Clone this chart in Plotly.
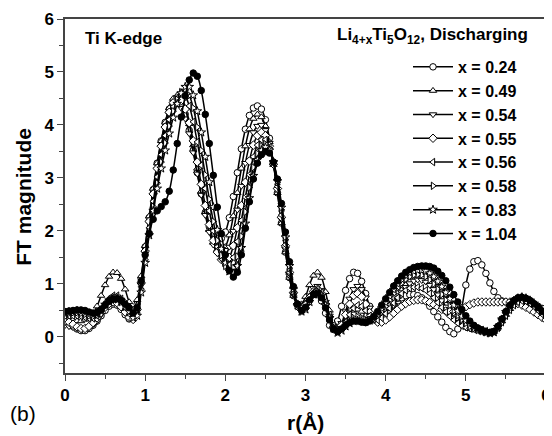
import plotly.graph_objects as go

r = [round(i * 0.05, 2) for i in range(121)]

labels = ["x = 0.24", "x = 0.49", "x = 0.54", "x = 0.55", "x = 0.56", "x = 0.58", "x = 0.83", "x = 1.04"]

ft_024 = [0.28,0.25,0.20,0.15,0.12,0.12,0.16,0.22,0.30,0.40,0.50,0.58,0.62,0.60,0.52,0.42,0.34,0.36,0.62,1.10,
          1.70,2.25,2.78,3.28,3.70,4.05,4.30,4.45,4.48,4.40,4.20,3.90,3.52,3.10,2.70,2.35,2.08,1.92,1.85,1.86,
          1.98,2.25,2.65,3.10,3.55,3.92,4.18,4.32,4.36,4.30,4.10,3.75,3.28,2.72,2.15,1.60,1.12,0.78,0.60,0.56,
          0.62,0.72,0.80,0.80,0.68,0.45,0.22,0.14,0.30,0.58,0.88,1.10,1.22,1.20,1.05,0.82,0.58,0.40,0.32,0.33,
          0.40,0.50,0.60,0.68,0.74,0.78,0.80,0.80,0.78,0.74,0.68,0.58,0.48,0.38,0.28,0.18,0.10,0.06,0.15,0.55,
          0.98,1.28,1.42,1.44,1.36,1.20,1.02,0.86,0.74,0.68,0.66,0.64,0.63,0.63,0.64,0.64,0.63,0.61,0.58,0.54,
          0.50]
ft_049 = [0.35,0.34,0.32,0.30,0.30,0.33,0.38,0.45,0.58,0.78,0.98,1.14,1.22,1.21,1.10,0.90,0.66,0.52,0.70,1.15,
          1.72,2.28,2.80,3.28,3.70,4.05,4.32,4.50,4.56,4.50,4.32,4.02,3.62,3.18,2.75,2.35,2.02,1.78,1.65,1.62,
          1.70,1.92,2.28,2.72,3.18,3.60,3.92,4.12,4.20,4.15,3.98,3.68,3.25,2.72,2.15,1.60,1.12,0.78,0.62,0.62,
          0.76,0.98,1.16,1.22,1.12,0.85,0.50,0.22,0.12,0.18,0.30,0.42,0.50,0.52,0.48,0.40,0.34,0.30,0.30,0.34,
          0.42,0.52,0.64,0.76,0.88,0.98,1.06,1.12,1.16,1.18,1.18,1.15,1.10,1.02,0.92,0.80,0.68,0.56,0.45,0.36,
          0.28,0.22,0.17,0.13,0.10,0.08,0.07,0.10,0.18,0.30,0.42,0.53,0.62,0.67,0.69,0.67,0.63,0.57,0.50,0.43,
          0.37]
ft_054 = [0.22,0.20,0.18,0.16,0.15,0.16,0.18,0.22,0.30,0.42,0.56,0.68,0.75,0.76,0.70,0.58,0.44,0.34,0.48,0.98,
          1.58,2.15,2.68,3.16,3.58,3.94,4.20,4.36,4.40,4.32,4.12,3.84,3.48,3.08,2.68,2.30,1.98,1.74,1.58,1.52,
          1.54,1.70,2.00,2.40,2.85,3.28,3.62,3.86,3.98,4.00,3.90,3.66,3.28,2.78,2.22,1.66,1.16,0.80,0.60,0.54,
          0.62,0.78,0.92,0.96,0.88,0.66,0.40,0.20,0.14,0.26,0.48,0.72,0.90,0.96,0.90,0.74,0.55,0.40,0.32,0.32,
          0.38,0.48,0.60,0.72,0.84,0.94,1.01,1.06,1.08,1.07,1.04,0.98,0.90,0.80,0.69,0.57,0.46,0.36,0.28,0.22,
          0.18,0.16,0.15,0.14,0.12,0.10,0.08,0.10,0.18,0.30,0.43,0.55,0.64,0.70,0.72,0.71,0.67,0.61,0.54,0.46,
          0.39]
ft_055 = [0.30,0.28,0.24,0.19,0.16,0.16,0.20,0.27,0.36,0.46,0.56,0.63,0.66,0.64,0.57,0.47,0.37,0.33,0.52,1.02,
          1.62,2.18,2.70,3.18,3.60,3.96,4.24,4.42,4.50,4.46,4.30,4.04,3.70,3.30,2.88,2.48,2.12,1.82,1.60,1.46,
          1.42,1.50,1.72,2.06,2.48,2.92,3.32,3.62,3.80,3.86,3.80,3.60,3.26,2.80,2.26,1.72,1.22,0.84,0.62,0.54,
          0.60,0.74,0.86,0.90,0.82,0.62,0.38,0.18,0.12,0.22,0.42,0.62,0.78,0.82,0.76,0.62,0.46,0.34,0.28,0.28,
          0.32,0.38,0.45,0.52,0.58,0.63,0.67,0.69,0.70,0.70,0.68,0.65,0.61,0.56,0.52,0.49,0.48,0.48,0.50,0.53,
          0.57,0.61,0.64,0.66,0.66,0.66,0.66,0.66,0.66,0.66,0.66,0.66,0.65,0.63,0.60,0.56,0.52,0.47,0.42,0.37,
          0.32]
ft_056 = [0.40,0.40,0.40,0.40,0.39,0.37,0.35,0.35,0.40,0.50,0.62,0.72,0.78,0.78,0.72,0.62,0.50,0.40,0.50,0.95,
          1.52,2.06,2.56,3.02,3.44,3.80,4.10,4.34,4.50,4.58,4.54,4.36,4.06,3.68,3.24,2.80,2.38,2.00,1.70,1.48,
          1.36,1.36,1.50,1.80,2.20,2.64,3.06,3.40,3.62,3.72,3.72,3.58,3.28,2.84,2.30,1.74,1.22,0.82,0.58,0.50,
          0.56,0.70,0.84,0.90,0.84,0.66,0.42,0.22,0.12,0.16,0.28,0.42,0.54,0.60,0.58,0.50,0.40,0.33,0.32,0.36,
          0.44,0.54,0.64,0.74,0.82,0.88,0.92,0.94,0.94,0.92,0.88,0.82,0.74,0.65,0.56,0.47,0.39,0.32,0.26,0.21,
          0.18,0.16,0.15,0.14,0.13,0.11,0.09,0.10,0.17,0.28,0.40,0.51,0.60,0.66,0.68,0.67,0.63,0.57,0.50,0.43,
          0.36]
ft_058 = [0.44,0.45,0.46,0.46,0.45,0.43,0.40,0.39,0.42,0.50,0.60,0.68,0.72,0.71,0.66,0.57,0.47,0.38,0.45,0.90,
          1.46,1.98,2.46,2.90,3.30,3.66,3.98,4.26,4.48,4.62,4.66,4.56,4.32,3.96,3.52,3.06,2.60,2.18,1.82,1.54,
          1.34,1.25,1.30,1.52,1.90,2.36,2.82,3.20,3.46,3.60,3.64,3.56,3.32,2.92,2.40,1.84,1.30,0.86,0.58,0.48,
          0.52,0.66,0.80,0.86,0.80,0.62,0.38,0.18,0.10,0.14,0.22,0.30,0.36,0.38,0.36,0.33,0.32,0.34,0.40,0.48,
          0.58,0.70,0.82,0.93,1.02,1.09,1.14,1.17,1.18,1.17,1.14,1.08,1.00,0.90,0.80,0.70,0.60,0.50,0.41,0.33,
          0.26,0.20,0.16,0.13,0.11,0.09,0.07,0.09,0.18,0.31,0.45,0.57,0.66,0.72,0.74,0.72,0.68,0.62,0.55,0.48,
          0.41]
ft_083 = [0.46,0.47,0.48,0.49,0.48,0.46,0.43,0.42,0.44,0.51,0.61,0.69,0.73,0.73,0.68,0.59,0.48,0.36,0.40,0.84,
          1.40,1.92,2.38,2.80,3.18,3.52,3.84,4.14,4.40,4.60,4.72,4.72,4.56,4.26,3.86,3.40,2.92,2.45,2.02,1.66,
          1.40,1.24,1.20,1.34,1.68,2.14,2.62,3.04,3.34,3.52,3.58,3.52,3.30,2.94,2.44,1.88,1.34,0.90,0.60,0.48,
          0.52,0.66,0.80,0.84,0.78,0.60,0.36,0.16,0.08,0.12,0.20,0.26,0.30,0.31,0.30,0.29,0.31,0.36,0.44,0.54,
          0.65,0.77,0.89,1.00,1.09,1.16,1.21,1.24,1.26,1.26,1.24,1.20,1.14,1.05,0.95,0.84,0.72,0.60,0.49,0.39,
          0.31,0.24,0.19,0.15,0.12,0.09,0.07,0.09,0.19,0.33,0.47,0.59,0.68,0.73,0.75,0.73,0.69,0.63,0.56,0.49,
          0.42]
ft_104 = [0.48,0.49,0.50,0.51,0.51,0.50,0.47,0.45,0.46,0.52,0.60,0.67,0.71,0.72,0.69,0.62,0.55,0.45,0.55,1.05,
          1.55,1.95,2.22,2.38,2.46,2.55,2.75,3.15,3.65,4.15,4.55,4.85,4.98,4.92,4.65,4.20,3.65,3.05,2.45,1.95,
          1.55,1.25,1.13,1.22,1.55,2.05,2.55,2.98,3.28,3.44,3.50,3.47,3.30,2.98,2.52,1.98,1.42,0.95,0.62,0.50,
          0.56,0.70,0.80,0.82,0.74,0.55,0.32,0.15,0.10,0.15,0.22,0.27,0.30,0.30,0.28,0.27,0.30,0.38,0.48,0.60,
          0.72,0.84,0.96,1.06,1.15,1.22,1.27,1.31,1.33,1.34,1.34,1.33,1.30,1.24,1.16,1.06,0.94,0.80,0.66,0.52,
          0.40,0.30,0.22,0.17,0.13,0.10,0.08,0.10,0.20,0.34,0.48,0.60,0.69,0.74,0.75,0.73,0.69,0.63,0.56,0.49,
          0.43]

series = [ft_024, ft_049, ft_054, ft_055, ft_056, ft_058, ft_083, ft_104]
symbols = ["circle", "triangle-up", "triangle-down", "diamond", "triangle-left", "triangle-right", "star", "circle"]
fills = ["white", "white", "white", "white", "white", "white", "white", "black"]

# the page body adds an 8 px margin, so the figure is laid out in page pixels minus 8
OFF = 8
W, H = 552 - OFF, 436 - OFF
L, R, T, B = 65 - OFF, 6, 19 - OFF, 436 - 373.5
PW, PH = W - L - R, H - T - B


def px_x(p):
    return (p - OFF - L) / PW


def px_y(p):
    return (H - B - (p - OFF)) / PH


fig = go.Figure()
for vals, name, sym, fc in zip(series, labels, symbols, fills):
    fig.add_trace(go.Scatter(
        x=r, y=vals, name=name, mode="lines+markers",
        line=dict(color="black", width=1.5, shape="spline"),
        marker=dict(symbol=sym, size=6.5, color=fc, line=dict(color="black", width=1)),
    ))

axis_common = dict(
    showline=True, linecolor="#444", linewidth=1.5, mirror=True,
    ticks="outside", ticklen=6, tickwidth=1.2, tickcolor="#444",
    showgrid=False, zeroline=False, automargin=False,
    ticklabeloverflow="allow",
    tickfont=dict(family="Arial", size=17, color="black", weight="bold"),
)

fig.update_xaxes(range=[0, 6], dtick=1, tick0=0,
                 minor=dict(dtick=0.5, ticks="outside", ticklen=4, tickcolor="#444", tickwidth=1.2),
                 **axis_common)
fig.update_yaxes(range=[-0.68, 6], dtick=1, tick0=0,
                 minor=dict(dtick=0.5, ticks="outside", ticklen=4, tickcolor="#444", tickwidth=1.2),
                 **axis_common)

bold = dict(family="Arial", color="black", weight="bold")

fig.update_layout(
    width=W, height=H,
    margin=dict(l=L, r=R, t=T, b=B, autoexpand=False),
    paper_bgcolor="white", plot_bgcolor="white",
    showlegend=True,
    legend=dict(
        x=px_x(522), y=px_y(50), xanchor="right", yanchor="top",
        bgcolor="rgba(0,0,0,0)", borderwidth=0,
        font=dict(size=16, **bold),
        tracegroupgap=0, itemwidth=40,
    ),
    annotations=[
        dict(text="Ti K-edge", x=px_x(83), y=px_y(39), xref="paper", yref="paper",
             xanchor="left", yanchor="middle", showarrow=False, font=dict(size=17, **bold)),
        dict(text="Li<sub>4+x</sub>Ti<sub>5</sub>O<sub>12</sub>, Discharging", x=px_x(530), y=px_y(36),
             xref="paper", yref="paper", xanchor="right", yanchor="middle",
             showarrow=False, font=dict(size=17, **bold)),
        dict(text="FT magnitude", x=px_x(24), y=px_y(197), xref="paper", yref="paper",
             xanchor="center", yanchor="middle", textangle=-90, showarrow=False, font=dict(size=21, **bold)),
        dict(text="r(Å)", x=px_x(305), y=px_y(423), xref="paper", yref="paper",
             xanchor="center", yanchor="middle", showarrow=False, font=dict(size=21, **bold)),
        dict(text="(b)", x=px_x(8), y=px_y(414), xref="paper", yref="paper",
             xanchor="left", yanchor="middle", showarrow=False,
             font=dict(family="Arial", size=21, color="black")),
    ],
)

fig.write_html("out.html")
